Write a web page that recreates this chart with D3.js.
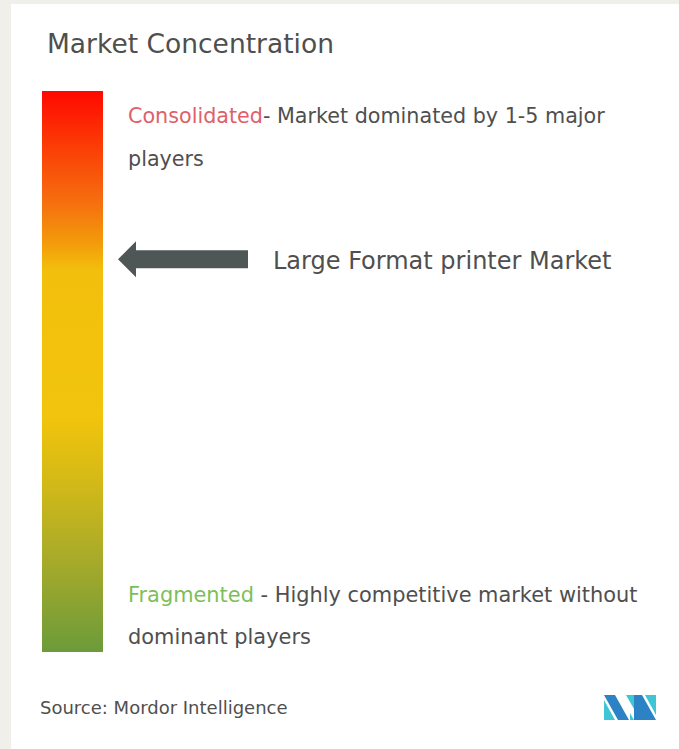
<!DOCTYPE html>
<html><head><meta charset="utf-8">
<script src="https://cdn.jsdelivr.net/npm/d3@7"></script>
<style>html,body{margin:0;padding:0;background:#f0efe9;overflow:hidden}</style>
</head><body>
<script>
const title = "Market Concentration";
const marketName = "Large Format printer Market";
const marketLevel = 0.70; // 0 = fragmented, 1 = consolidated
const topLabel = ["Consolidated", "- Market dominated by 1-5 major", "players"];
const bottomLabel = ["Fragmented", " - Highly competitive market without", "dominant players"];
const sourceText = "Source: Mordor Intelligence";
const gradientStops = [
  [0, "#ff0800"], [0.1, "#fb3d06"], [0.2, "#f5700f"], [0.27, "#f39a0b"],
  [0.32, "#f2c00c"], [0.58, "#f2c40c"], [0.7, "#d2b918"], [0.84, "#a6aa2a"], [1, "#6c9b3a"]
];

const W = 679, H = 749;
const svg = d3.select("body").append("svg").attr("width", W).attr("height", H)
  .style("font-family", "'DejaVu Sans', sans-serif");
svg.append("rect").attr("x", 11).attr("y", 4).attr("width", W - 11).attr("height", H - 4).attr("fill", "#ffffff");

svg.append("text").attr("x", 47).attr("y", 53).attr("font-size", 26.5).attr("fill", "#4f4f4f")
  .text(title);

const defs = svg.append("defs");
const grad = defs.append("linearGradient").attr("id", "g").attr("x1", 0).attr("y1", 0).attr("x2", 0).attr("y2", 1);
grad.selectAll("stop").data(gradientStops).join("stop")
  .attr("offset", d => d[0]).attr("stop-color", d => d[1]);

const barTop = 91, barBottom = 652;
const y = d3.scaleLinear().domain([0, 1]).range([barBottom, barTop]);
svg.append("rect").attr("x", 42).attr("y", y(1)).attr("width", 61).attr("height", y(0) - y(1)).attr("fill", "url(#g)");

// top label
const t1 = svg.append("text").attr("x", 128).attr("y", 123).attr("font-size", 20.7).attr("fill", "#4f4f4f");
t1.append("tspan").attr("fill", "#e0606a").text(topLabel[0]);
t1.append("tspan").text(topLabel[1]);
svg.append("text").attr("x", 128).attr("y", 166).attr("font-size", 20.7).attr("fill", "#4f4f4f").text(topLabel[2]);

// bottom label
const t2 = svg.append("text").attr("x", 128).attr("y", 602).attr("font-size", 20.9).attr("fill", "#4f4f4f");
t2.append("tspan").attr("fill", "#7cbf5a").text(bottomLabel[0]);
t2.append("tspan").text(bottomLabel[1]);
svg.append("text").attr("x", 128).attr("y", 644).attr("font-size", 20.9).attr("fill", "#4f4f4f").text(bottomLabel[2]);

// arrow
const ay = y(marketLevel);
const arrow = d3.path();
arrow.moveTo(118, ay);
arrow.lineTo(136, ay - 18);
arrow.lineTo(136, ay - 9);
arrow.lineTo(248, ay - 9);
arrow.lineTo(248, ay + 9);
arrow.lineTo(136, ay + 9);
arrow.lineTo(136, ay + 18);
arrow.closePath();
svg.append("path").attr("d", arrow.toString()).attr("fill", "#4f5656");
svg.append("text").attr("x", 273).attr("y", ay + 10).attr("font-size", 24).attr("fill", "#4f4f4f").text(marketName);

// source
svg.append("text").attr("x", 40).attr("y", 714).attr("font-size", 18).attr("fill", "#4f4f4f").text(sourceText);

// logo
const lg = svg.append("g").attr("transform", "translate(604,695)");
const dark = "#2b82c4", light = "#3fc6d6";
lg.append("path").attr("d", "M0,0 L11,0 L25,25 L14,25 Z").attr("fill", dark);
lg.append("path").attr("d", "M0,5 L11,25 L0,25 Z").attr("fill", light);
lg.append("path").attr("d", "M22,0 L30,0 L30,14 Z").attr("fill", light);
lg.append("path").attr("d", "M30,0 L38,0 L52,25 L30,25 Z").attr("fill", dark);
lg.append("path").attr("d", "M41,0 L52,0 L52,20 Z").attr("fill", light);
lg.append("path").attr("d", "M26,18 L30,25 L26,25 Z").attr("fill", light);
</script>
</body></html>
